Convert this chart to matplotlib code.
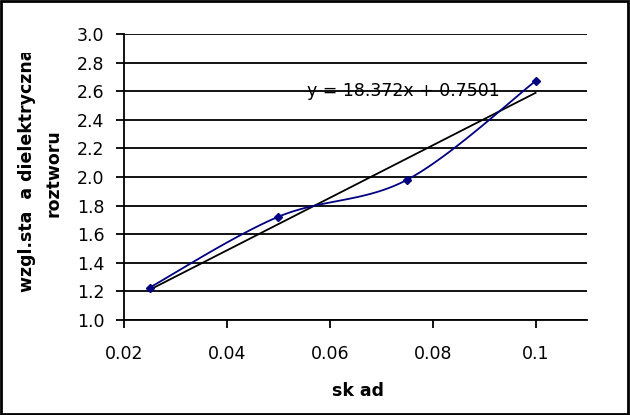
import numpy as np
import matplotlib
matplotlib.use("Agg")
import matplotlib.pyplot as plt
from matplotlib.transforms import Bbox

plt.rcParams['font.family'] = ['DejaVu Sans']

# data
x_vals = [0.025, 0.05, 0.075, 0.1]
y_vals = [1.227, 1.722, 1.98, 2.671]
x_ticks = [0.02, 0.04, 0.06, 0.08, 0.1]
x_tick_labels = ["0.02", "0.04", "0.06", "0.08", "0.1"]
y_ticks = [1.0, 1.2, 1.4, 1.6, 1.8, 2.0, 2.2, 2.4, 2.6, 2.8, 3.0]
equation = "y = 18.372x + 0.7501"


def smooth_curve(xs, ys, n=40):
    # Excel-style smoothed line: cubic Bezier with 1/6 tangent control points
    xs = np.asarray(xs, float)
    ys = np.asarray(ys, float)
    px = np.concatenate([[xs[0]], xs, [xs[-1]]])
    py = np.concatenate([[ys[0]], ys, [ys[-1]]])
    out_x, out_y = [], []
    t = np.linspace(0, 1, n)
    for i in range(1, len(px) - 2):
        p0 = np.array([px[i], py[i]])
        p3 = np.array([px[i + 1], py[i + 1]])
        p1 = p0 + (np.array([px[i + 1], py[i + 1]]) - np.array([px[i - 1], py[i - 1]])) / 6
        p2 = p3 - (np.array([px[i + 2], py[i + 2]]) - np.array([px[i], py[i]])) / 6
        b = ((1 - t) ** 3)[:, None] * p0 + (3 * (1 - t) ** 2 * t)[:, None] * p1 \
            + (3 * (1 - t) * t ** 2)[:, None] * p2 + (t ** 3)[:, None] * p3
        out_x.extend(b[:, 0])
        out_y.extend(b[:, 1])
    return out_x, out_y


W, H = 630, 415
fig = plt.figure(figsize=(6.3, 4.15), dpi=100)
ax = fig.add_axes([124 / W, 1 - 320 / H, (587 - 124) / W, (320 - 34) / H])

for yt in y_ticks:
    ax.axhline(yt, color="black", lw=1.3, zorder=1)

sx, sy = smooth_curve(x_vals, y_vals)
ax.plot(sx, sy, color="#000080", lw=1.3, zorder=3)
ax.plot(x_vals, y_vals, linestyle="none", marker="D", markersize=4.5,
        color="#000080", zorder=4)

coef = np.polyfit(x_vals, y_vals, 1)
tx = np.array([x_vals[0], x_vals[-1]])
ax.plot(tx, np.polyval(coef, tx), color="black", lw=1.3, zorder=2)

ax.text(0.0555, 2.6, equation, fontsize=12.5, va="center", ha="left", zorder=5)

ax.set_xlim(0.02, 0.11)
ax.set_ylim(1.0, 3.0)
ax.set_xticks(x_ticks)
ax.set_xticklabels(x_tick_labels)
ax.set_yticks(y_ticks)
ax.set_yticklabels([f"{v:.1f}" for v in y_ticks])
ax.tick_params(axis="both", direction="out", length=6, width=1.3,
               labelsize=12.5, color="black")
ax.tick_params(axis="x", pad=12)
ax.tick_params(axis="y", pad=8)

for s in ["top", "right"]:
    ax.spines[s].set_visible(False)
for s in ["left", "bottom"]:
    ax.spines[s].set_linewidth(1.3)

fig.text(358 / W, 1 - 391 / H, "sk ad", fontsize=12.5, fontweight="bold",
         ha="center", va="center")

# y label, first line is cut at the top in the original
lbl1 = fig.text(27 / W, 1 - 292 / H, "wzgl.sta  a dielektryczna", rotation=90,
                ha="center", va="bottom", fontsize=12.5, fontweight="bold")
lbl1.set_clip_box(Bbox.from_extents(0, 0, W, H - 53))
lbl1.set_clip_on(True)
fig.text(54 / W, 1 - 217 / H, "roztworu", rotation=90,
         ha="center", va="bottom", fontsize=12.5, fontweight="bold")

fig.patches.append(plt.Rectangle((0.0015, 0.002), 0.996, 0.995, transform=fig.transFigure,
                                 fill=False, edgecolor="black", lw=2))

fig.savefig("out.png", dpi=100)
